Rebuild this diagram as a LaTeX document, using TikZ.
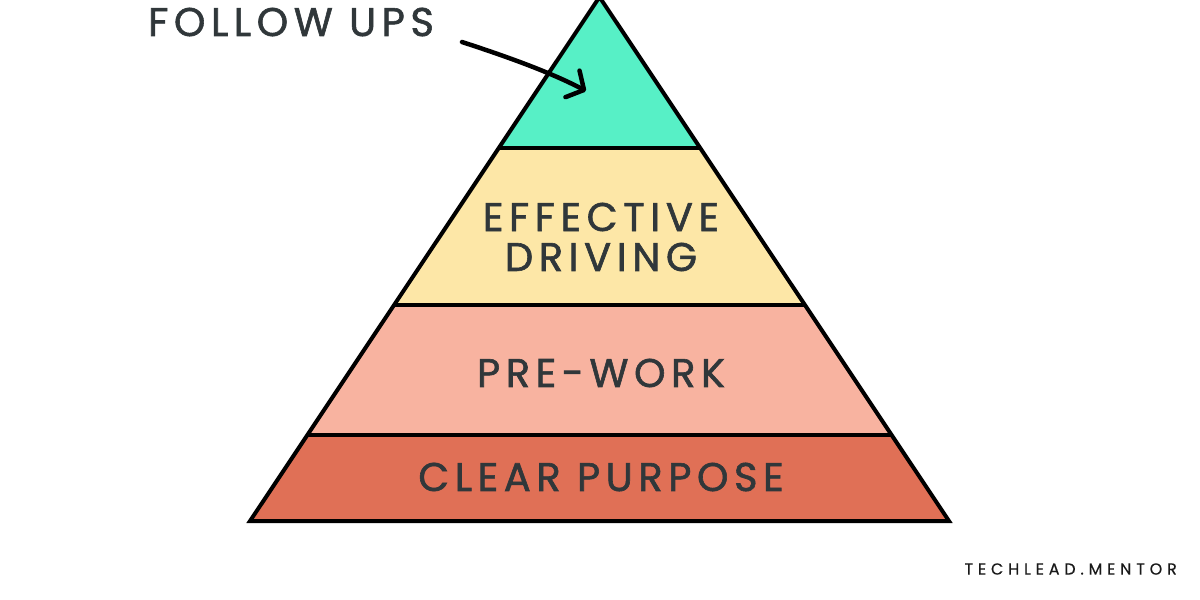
\documentclass[tikz,border=0pt]{standalone}
\usepackage{fontspec}
\usetikzlibrary{arrows.meta}
\newfontfamily\labfont{Poppins}[LetterSpace=14,FakeBold=1.5]
\newfontfamily\markfont{Poppins}[LetterSpace=30,FakeBold=0.3]
\definecolor{txt}{HTML}{30373A}
\definecolor{cTeal}{HTML}{57F0C6}
\definecolor{cYellow}{HTML}{FDE7A7}
\definecolor{cPink}{HTML}{F8B3A0}
\definecolor{cRed}{HTML}{E07056}
\tikzset{
  layer/.style={draw=black, line width=4, line join=miter},
  lab/.style={text=txt, font=\labfont\fontsize{40}{44}\selectfont, anchor=center, inner sep=0},
}
\begin{document}
\begin{tikzpicture}[x=1pt,y=-1pt]
\useasboundingbox (0,0) rectangle (1200,600);
% corners
\coordinate (A) at (599.5,-3);
\coordinate (BL) at (250,521);
\coordinate (BR) at (949,521);
\path (A) -- (BL) coordinate[pos=0.2885] (L1) coordinate[pos=0.5885] (L2) coordinate[pos=0.8365] (L3);
\path (A) -- (BR) coordinate[pos=0.2885] (R1) coordinate[pos=0.5885] (R2) coordinate[pos=0.8365] (R3);
\fill[cTeal] (A) -- (L1) -- (R1) -- cycle;
\fill[cYellow] (L1) -- (L2) -- (R2) -- (R1) -- cycle;
\fill[cPink] (L2) -- (L3) -- (R3) -- (R2) -- cycle;
\fill[cRed] (L3) -- (BL) -- (BR) -- (R3) -- cycle;
\draw[layer] (A) -- (BL) -- (BR) -- cycle;
\draw[layer] (L1) -- (R1);
\draw[layer] (L2) -- (R2);
\draw[layer] (L3) -- (R3);
% labels
\node[lab] (eff) at (601,217) {EFFECTIVE};
\node[lab] (drv) at (601,257) {DRIVING};
\node[lab] (pre) at (601,373) {PRE-WORK};
\node[lab] (clr) at (601,477) {CLEAR PURPOSE};
\node[lab, anchor=west] (fu) at (148,22) {FOLLOW UPS};
\node[text=black!90, font=\markfont\fontsize{16}{18}\selectfont, anchor=east, inner sep=0] (mark) at (1177,569) {TECHLEAD.MENTOR};
% arrow
\coordinate (fuend) at (462,42);
\coordinate (tip) at (586,91);
\draw[line width=4.5, line cap=round, -{Straight Barb[length=13pt,width=30pt,line width=4.5, round]}] (fuend) .. controls (505,56) and (550,72) .. (tip);
\end{tikzpicture}
\end{document}
